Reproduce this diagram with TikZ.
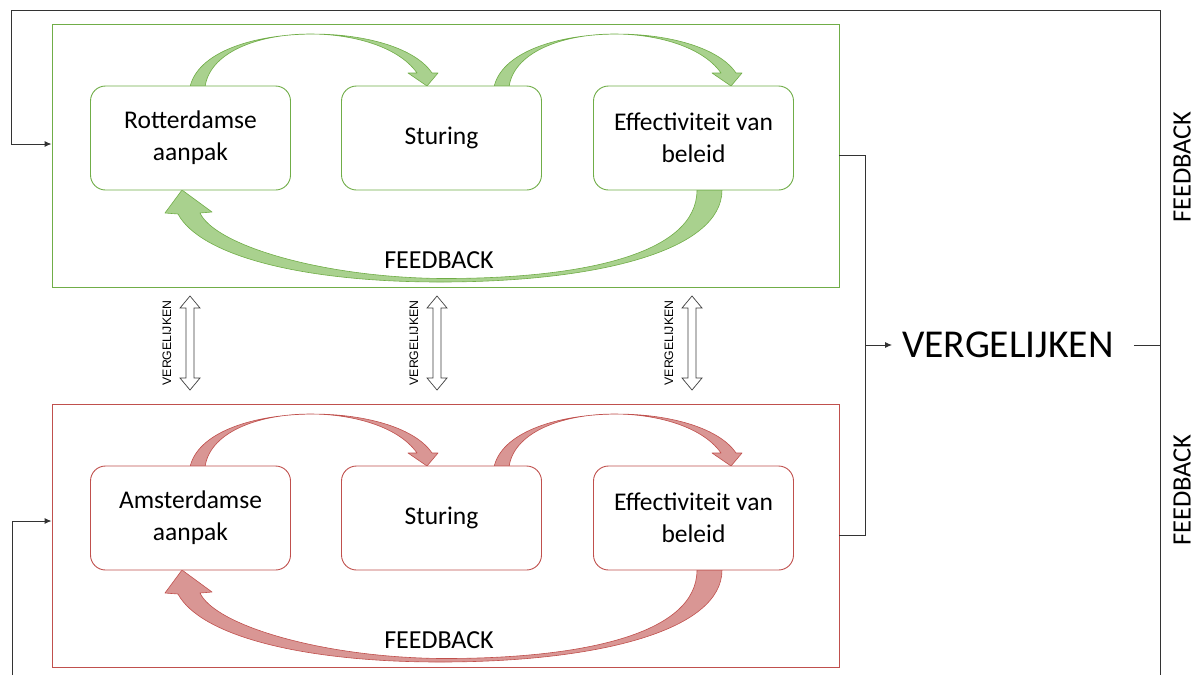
\documentclass[tikz,border=0pt]{standalone}
\usepackage{fontspec}
\setmainfont{Carlito}
\newfontfamily\armfont{Liberation Sans}
\usetikzlibrary{arrows.meta,calc}

\definecolor{gline}{HTML}{70AD47}
\definecolor{gfill}{HTML}{A9D18E}
\definecolor{rline}{HTML}{C0504D}
\definecolor{rfill}{HTML}{D99694}
\definecolor{wirecol}{HTML}{333333}

\tikzset{
  panelbox/.style={draw, line width=0.9pt, minimum width=787pt, minimum height=263pt, inner sep=0pt},
  stagebox/.style={draw, fill=white, line width=0.9pt, rounded corners=15pt,
    minimum width=200pt, minimum height=104pt, align=center,
    font=\fontsize{25.5}{32}\selectfont, inner sep=0pt},
  bend arrow/.style={line width=0.6pt, line join=round},
  loop label/.style={font=\fontsize{26}{30}\selectfont},
  wire/.style={draw=wirecol, line width=1pt},
  wire arrow/.style={wire, -{Latex[length=7pt,width=6pt]}},
  side label/.style={rotate=90, inner sep=0pt, text height=17pt, text depth=0pt,
    font=\fontsize{26.5}{32}\selectfont},
  cmp label/.style={rotate=90, font=\armfont\fontsize{12.3}{14}\selectfont},
  cmp arrow/.style={draw=black!75, fill=white, line width=0.7pt, line join=miter},
}

% One policy cycle: frame, three stages, two forward arrows and a feedback arrow
\newcommand\cyclepanel[5]{% #1 name prefix, #2 line colour, #3 fill colour, #4 first stage, #5 vertical offset
\begin{scope}[yshift=#5]
  \node[panelbox, draw=#2] (#1panel) at (445.5,155.5) {};
  % forward arrows over the tops of the stages
  \foreach \dx in {0,304}{
    \path[bend arrow, draw=#2, fill=#3, xshift=\dx pt]
      (190,87) .. controls (205,20) and (395,18) .. (432,73)
      -- (438,73) -- (427,86) -- (408,73) -- (417,73)
      .. controls (378,17) and (214,21) .. (205,87) -- cycle;
  }
  % feedback arrow under the stages
  \path[bend arrow, draw=#2, fill=#3]
    (722,190) .. controls (722,250) and (600,282) .. (440,282)
    .. controls (300,282) and (200,255) .. (178,214)
    -- (165,213) -- (182,190) -- (212,212) -- (200,213)
    .. controls (215,245) and (320,277) .. (440,278.5)
    .. controls (580,279) and (697,255) .. (697,190) -- cycle;
  \node[stagebox, draw=#2] (#1aanpak) at (190.5,138) {#4};
  \node[stagebox, draw=#2] (#1sturing) at (441.5,138) {Sturing};
  \node[stagebox, draw=#2] (#1effect) at (693.5,138) {Effectiviteit van\\beleid};
  \node[loop label] (#1feedback) at (439,260) {FEEDBACK};
\end{scope}}

% Hollow two-way arrow between the two cycles, with its label
\newcommand\comparelink[2]{% #1 name, #2 x position of the shaft
  \coordinate (#1top) at (#2,296);
  \coordinate (#1bot) at (#2,390);
  \draw[cmp arrow] (#1top) -- ++(10,12) -- ++(-6,0) -- ($(#1bot)+(4,-12)$) -- ++(6,0)
    -- (#1bot) -- ++(-10,-12) -- ++(6,0) -- ($(#1top)+(-4,12)$) -- ++(-6,0) -- cycle;
  \node[cmp label] (#1label) at (#2-23,343) {VERGELIJKEN};
}

\begin{document}
\begin{tikzpicture}[x=1pt, y=-1pt]
  \fill[white] (0,0) rectangle (1198,675);
  \useasboundingbox (0,0) rectangle (1198,675);
  \begin{scope}
  \clip (0,0) rectangle (1198,675);

  \cyclepanel{G}{gline}{gfill}{Rotterdamse\\aanpak}{0pt}
  \cyclepanel{R}{rline}{rfill}{Amsterdamse\\aanpak}{-380pt}

  \comparelink{cmpa}{190}
  \comparelink{cmpb}{437}
  \comparelink{cmpc}{692}

  % comparison of both cycles
  \node[font=\fontsize{39.5}{42}\selectfont, inner xsep=10pt, inner ysep=0pt,
        text height=25.4pt, text depth=0pt] (vg) at (1008,345) {VERGELIJKEN};
  \coordinate (brk) at (865,345);
  \draw[wire] (Gpanel.east) -- ++(26,0) |- (Rpanel.east);
  \draw[wire arrow] (brk) -- (vg.west);

  % feedback rail back into both cycles
  \coordinate (railtop) at (1160,10);
  \coordinate (railbot) at (1160,675);
  \coordinate (looptl) at (11,10);
  \coordinate (loopbl) at (12,675);
  \draw[wire] (railtop) -- (railbot);
  \draw[wire] ([xshift=10pt]vg.east) -- (vg.east -| railtop);
  \draw[wire arrow] (railtop) -- (looptl) |- ([yshift=11.5pt]Gpanel.west);
  \draw[wire arrow] (loopbl) |- ([yshift=14.5pt]Rpanel.west);

  \node[side label] (fbup) at (1182,167) {FEEDBACK};
  \node[side label] (fbdown) at (1182,490) {FEEDBACK};
  \end{scope}
\end{tikzpicture}
\end{document}
